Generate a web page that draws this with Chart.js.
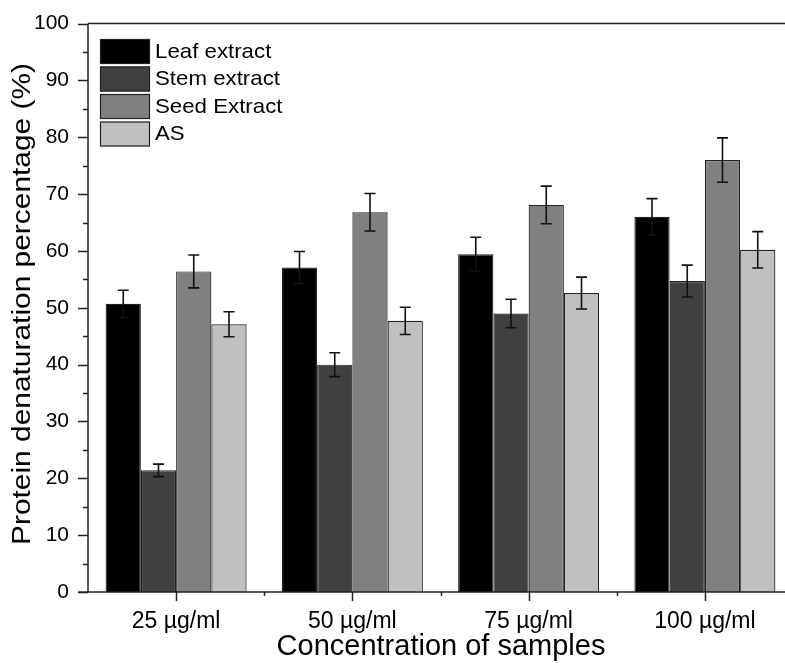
<!DOCTYPE html>
<html>
<head>
<meta charset="utf-8">
<script src="https://cdn.jsdelivr.net/npm/chart.js@4"></script>
<style>
  html, body { margin: 0; padding: 0; background: #fff; overflow: hidden; }
  #wrap { width: 800px; height: 663px; }
</style>
</head>
<body>
<div id="wrap"><canvas id="chart" width="800" height="663"></canvas></div>
<script>
// data
const categories = ['25 µg/ml', '50 µg/ml', '75 µg/ml', '100 µg/ml'];
const seriesNames = ['Leaf extract', 'Stem extract', 'Seed Extract', 'AS'];
const leafValues = [50.7, 57.1, 59.4, 66.0];
const leafErrors = [2.4, 2.8, 3.0, 3.2];
const stemValues = [21.4, 40.0, 49.0, 54.7];
const stemErrors = [1.1, 2.1, 2.5, 2.8];
const seedValues = [56.4, 66.8, 68.1, 76.0];
const seedErrors = [2.9, 3.3, 3.3, 3.9];
const asValues = [47.1, 47.7, 52.6, 60.2];
const asErrors = [2.2, 2.4, 2.8, 3.2];
const yTicks = [0, 10, 20, 30, 40, 50, 60, 70, 80, 90, 100];

const xTitle = 'Concentration of samples';
const yTitle = 'Protein denaturation percentage (%)';

const fills = ['#000000', '#404040', '#808080', '#c0c0c0'];
const values = [leafValues, stemValues, seedValues, asValues];
const errors = [leafErrors, stemErrors, seedErrors, asErrors];
const FONT = '"Liberation Sans", Arial, sans-serif';

// error bars on top of the bars
const errorBars = {
  id: 'errorBars',
  afterDatasetsDraw(chart) {
    const ctx = chart.ctx;
    const y = chart.scales.y;
    ctx.save();
    ctx.strokeStyle = '#111';
    ctx.lineWidth = 1.6;
    chart.data.datasets.forEach((ds, i) => {
      chart.getDatasetMeta(i).data.forEach((bar, j) => {
        const v = ds.data[j], e = ds.errors[j];
        const top = y.getPixelForValue(v + e);
        const bot = y.getPixelForValue(v - e);
        ctx.beginPath();
        ctx.moveTo(bar.x, top); ctx.lineTo(bar.x, bot);
        ctx.moveTo(bar.x - 5.5, top); ctx.lineTo(bar.x + 5.5, top);
        ctx.moveTo(bar.x - 5.5, bot); ctx.lineTo(bar.x + 5.5, bot);
        ctx.stroke();
      });
    });
    ctx.restore();
  }
};

// frame, outward ticks, titles and legend box in the plot
const frame = {
  id: 'frame',
  afterDraw(chart) {
    const ctx = chart.ctx;
    const a = chart.chartArea;
    const x = chart.scales.x, y = chart.scales.y;
    ctx.save();
    ctx.strokeStyle = '#222';
    ctx.lineWidth = 1.5;
    ctx.beginPath();
    ctx.moveTo(a.left, a.top); ctx.lineTo(chart.width, a.top);
    ctx.moveTo(a.left, a.top); ctx.lineTo(a.left, a.bottom);
    ctx.moveTo(a.left - 10, a.bottom); ctx.lineTo(chart.width, a.bottom);
    // y ticks
    for (let v = 0; v <= 100; v += 5) {
      const py = Math.round(y.getPixelForValue(v)) + 0.5;
      const len = v % 10 === 0 ? 10 : 5;
      ctx.moveTo(a.left - len, py); ctx.lineTo(a.left, py);
    }
    // x ticks
    for (let i = 0; i < categories.length; i++) {
      const px = Math.round(x.getPixelForValue(i)) + 0.5;
      ctx.moveTo(px, a.bottom); ctx.lineTo(px, a.bottom + 9);
      const bx = Math.round(x.getPixelForValue(i + 0.5)) + 0.5;
      ctx.moveTo(bx, a.bottom); ctx.lineTo(bx, a.bottom + 4);
    }
    ctx.stroke();

    // axis titles
    ctx.fillStyle = '#000';
    ctx.textAlign = 'center';
    ctx.textBaseline = 'middle';
    ctx.font = '29px ' + FONT;
    ctx.fillText(xTitle, 441, 647);

    ctx.font = '25px ' + FONT;
    const w = ctx.measureText(yTitle).width;
    ctx.save();
    ctx.translate(23, 304);
    ctx.rotate(-Math.PI / 2);
    ctx.scale(482 / w, 1);
    ctx.fillText(yTitle, 0, 0);
    ctx.restore();

    // legend
    ctx.textAlign = 'left';
    ctx.font = '21px ' + FONT;
    chart.data.datasets.forEach((ds, i) => {
      const top = 39 + i * 27.5;
      ctx.fillStyle = ds.backgroundColor;
      ctx.fillRect(100, top, 50, 25);
      ctx.lineWidth = 1.2;
      ctx.strokeStyle = '#222';
      ctx.strokeRect(100.5, top + 0.5, 49, 24);
      ctx.fillStyle = '#000';
      ctx.save();
      ctx.translate(155, top + 13);
      ctx.scale(1.06, 1);
      ctx.fillText(ds.label, 0, 0);
      ctx.restore();
    });
    ctx.restore();
  }
};

new Chart(document.getElementById('chart'), {
  type: 'bar',
  data: {
    labels: categories,
    datasets: seriesNames.map((name, i) => ({
      label: name,
      data: values[i],
      errors: errors[i],
      backgroundColor: fills[i],
      borderColor: '#222',
      borderWidth: 1.2,
      barPercentage: 1,
      categoryPercentage: 0.8
    }))
  },
  options: {
    responsive: false,
    animation: false,
    layout: { padding: { top: 23, right: 7, left: 0, bottom: 0 } },
    plugins: { legend: { display: false }, tooltip: { enabled: false } },
    scales: {
      x: {
        grid: { display: false },
        border: { display: false },
        ticks: { color: '#000', padding: 8, font: { family: FONT, size: 23 } },
        afterFit(s) { s.height = 71; }
      },
      y: {
        min: 0, max: 100,
        afterBuildTicks(s) { s.ticks = yTicks.map(v => ({ value: v })); },
        grid: { display: false },
        border: { display: false },
        ticks: { color: '#000', padding: 11, font: { family: FONT, size: 21 } },
        afterFit(s) { s.width = 88; }
      }
    }
  },
  plugins: [errorBars, frame]
});
</script>
</body>
</html>
